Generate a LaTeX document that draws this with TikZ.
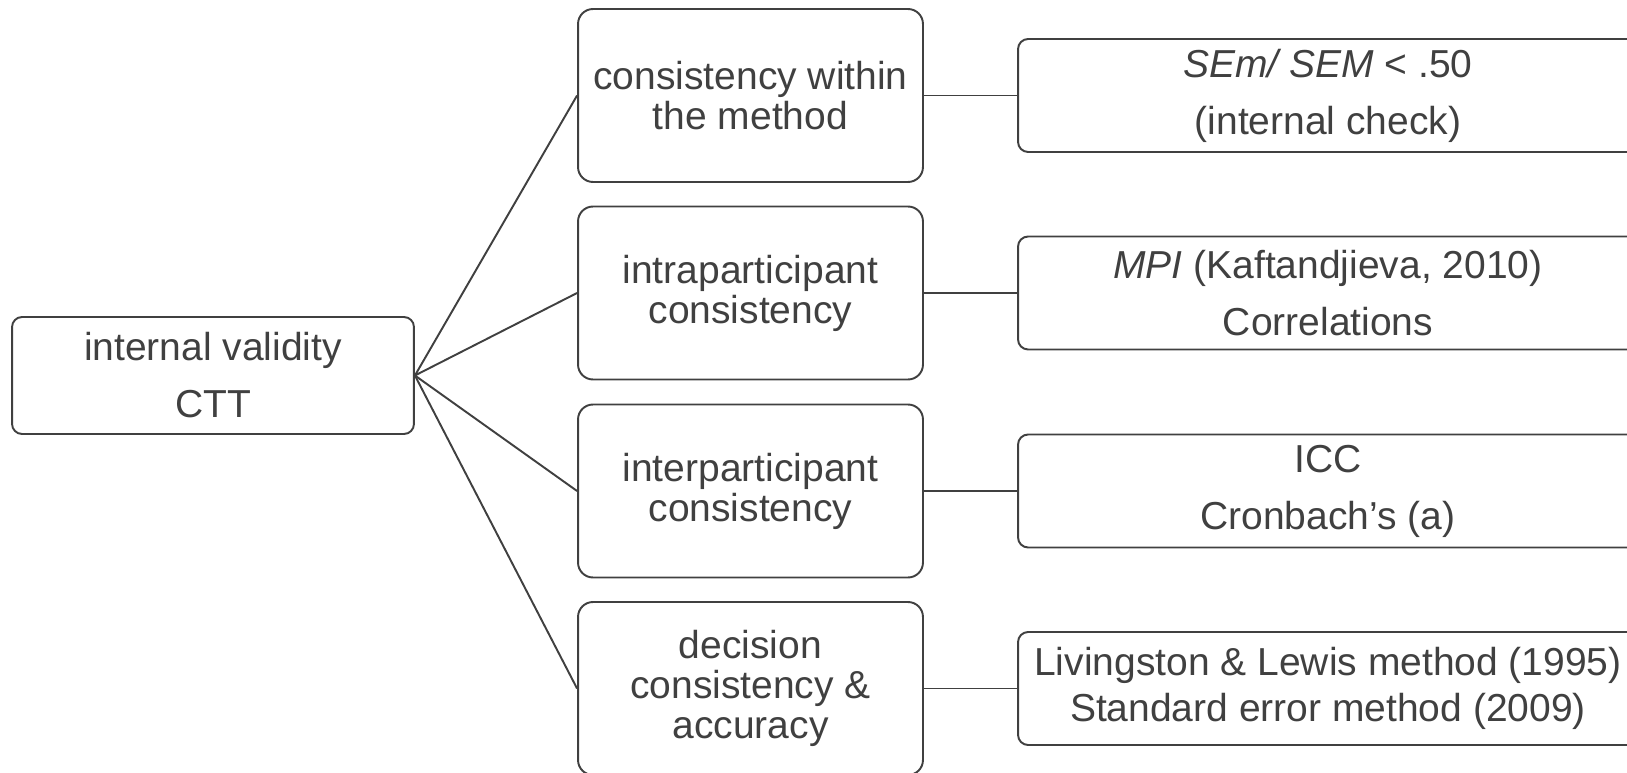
\documentclass[tikz,border=0pt]{standalone}
\usepackage{xcolor}
\usepackage{fontspec}
\setmainfont{Liberation Sans}
\usepackage{tikz}
\definecolor{ink}{HTML}{404040}
\tikzstyle{rootBox} = [draw=ink, rectangle, rounded corners=5.7pt, inner sep=0pt,
   minimum width=8.04cm, minimum height=2.34cm, align=center,
   font=\fontsize{22.2}{32.4}\selectfont]
\tikzstyle{midBox} = [draw=ink, rectangle, rounded corners=8.5pt, inner sep=0pt,
   minimum width=6.9cm, minimum height=3.46cm, align=center,
   font=\fontsize{22.2}{22.8}\selectfont]
\tikzstyle{endBox} = [draw=ink, rectangle, rounded corners=5.7pt, inner sep=0pt,
   minimum width=12.4cm, minimum height=2.26cm, align=center,
   font=\fontsize{22.2}{32.4}\selectfont]

\begin{document}
\begin{tikzpicture}[x=0.02cm, y=-0.02cm, line width=1.1pt, ink]
  \useasboundingbox (0,0) rectangle (1627,773);
  \node[rootBox] at (213,375.5)(r){internal validity\\CTT};

  \node[midBox] at (750.5,95.5)(m1){consistency within\\the method};
  \node[midBox] at (750.5,293)(m2){intraparticipant\\consistency};
  \node[midBox] at (750.5,491)(m3){interparticipant\\consistency};
  \node[midBox] at (750.5,688.5)(m4){decision\\consistency \&\\accuracy};

  \node[endBox] at (1328,95.5)(t1){\textit{SEm/ SEM} < .50\\(internal check)};
  \node[endBox] at (1328,293)(t2){\textit{MPI} (Kaftandjieva, 2010)\\Correlations};
  \node[endBox] at (1328,491)(t3){ICC\\Cronbach’s (a)};
  \node[endBox, font=\fontsize{22.2}{26.2}\selectfont] at (1328,688.5)(t4){Livingston \& Lewis method (1995)\\Standard error method (2009)};

  \draw (r.east) -- (m1.west);
  \draw (r.east) -- (m2.west);
  \draw (r.east) -- (m3.west);
  \draw (r.east) -- (m4.west);

  \draw (m1) -- (t1);
  \draw (m2) -- (t2);
  \draw (m3) -- (t3);
  \draw (m4) -- (t4);
\end{tikzpicture}
\end{document}
